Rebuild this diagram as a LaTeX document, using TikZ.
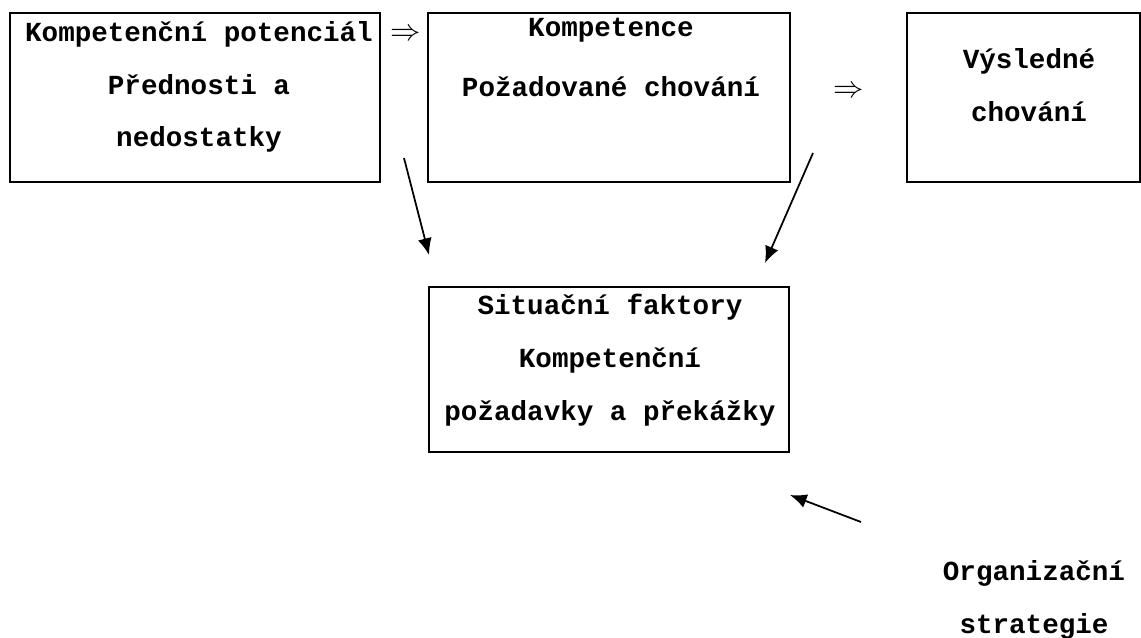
\documentclass[tikz,border=0pt]{standalone}
\usepackage{fontspec}
\setmainfont{Liberation Mono}
\usepackage{amsmath}
\usepackage{tikz}
\usetikzlibrary{arrows.meta,positioning,calc}

\begin{document}
\begin{tikzpicture}
[>={Latex[length=9.5pt,width=8pt]}, line width=1pt,
box/.style={draw, line width=0.7pt, inner sep=0pt},
txt/.style={align=center, inner sep=0pt,
font=\fontsize{15.7}{30}\selectfont\bfseries},
impl/.style={inner sep=0pt, font=\fontsize{17.5}{17.5}\selectfont}]
\useasboundingbox (0,0) rectangle (22.82,-12.76);

\node (pot) at (3.9,-1.95) [box, minimum width=7.4cm, minimum height=3.38cm] {};
\node (komp) at (12.18,-1.95) [box, minimum width=7.24cm, minimum height=3.38cm] {};
\node (vysl) at (20.47,-1.95) [box, minimum width=4.66cm, minimum height=3.38cm] {};
\node (sit) at (12.18,-7.39) [box, minimum width=7.2cm, minimum height=3.3cm] {};

\node (potT) at (3.98,-1.74) [txt] {Kompetenční potenciál\\Přednosti a\\nedostatky};
\node (kompT) at (12.22,-1.15) [txt] {Kompetence\\[4pt]Požadované chování};
\node (vyslT) at (20.58,-1.7) [txt] {Výsledné\\chování};
\node (sitT) at (12.2,-7.2) [txt] {Situační faktory\\Kompetenční\\požadavky a překážky};
\node (org) at (20.68,-12.0) [txt] {Organizační\\strategie};

\node (i1) at (8.12,-0.7) [impl] {$\Rightarrow$};
\node (i2) at (16.98,-1.84) [impl] {$\Rightarrow$};

\coordinate (a1) at (8.08,-3.16);
\coordinate (b1) at (8.58,-5.1);
\coordinate (a2) at (16.26,-3.06);
\coordinate (b2) at (15.3,-5.26);
\coordinate (a3) at (17.22,-10.44);
\coordinate (b3) at (15.8,-9.9);

\draw[->] (a1) -- (b1);
\draw[->] (a2) -- (b2);
\draw[->] (a3) -- (b3);

\end{tikzpicture}
\end{document}
